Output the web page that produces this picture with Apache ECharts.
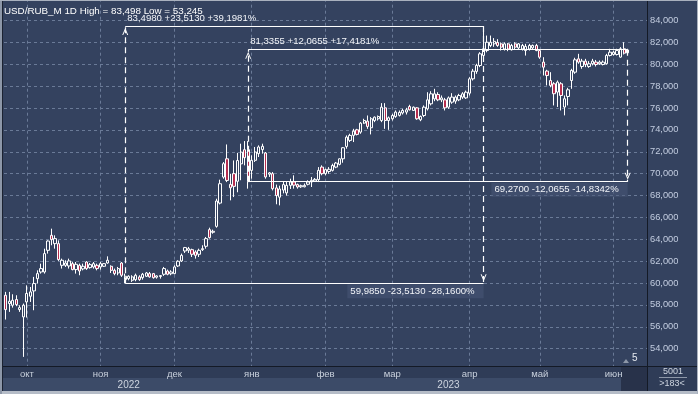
<!DOCTYPE html>
<html><head><meta charset="utf-8">
<script src="https://cdn.jsdelivr.net/npm/echarts/dist/echarts.min.js"></script>
<style>html,body{margin:0;padding:0;background:#34425f;overflow:hidden}#c{width:698px;height:394px}</style>
</head><body><div id="c"></div><script>
// ---- calendar (MOEX trading days shown on the chart) ----
const startDate = '2022-09-23';
const holidays = ['2022-11-04','2023-01-02','2023-02-23','2023-03-08','2023-05-01','2023-05-09','2023-06-12'];
const slotCount = 183;
const monthNames = ['янв','фев','мар','апр','май','июн','июл','авг','сен','окт','ноя','дек'];
const yTickMin = 52, yTickMax = 86, yTickStep = 2;

// ---- daily candles ----
const opens = [
58.88,58.12,57.97,58.49,57.57,56.90,58.27,58.79,59.28,60.40,
61.01,61.01,62.99,64.36,63.60,63.60,61.62,61.62,61.56,61.77,
61.23,61.62,61.29,61.92,61.41,61.47,61.62,61.47,61.53,61.83,
61.53,61.16,60.92,61.83,60.31,60.40,60.25,60.31,60.56,60.49,
60.62,60.86,60.86,60.53,60.60,60.80,61.10,60.85,60.86,61.56,
62.02,62.93,62.99,63.05,62.84,62.63,63.05,63.36,64.88,64.64,
65.18,67.31,69.69,71.36,69.02,70.00,69.30,70.90,72.19,72.19,
70.30,71.22,71.83,72.20,71.89,69.95,70.00,68.70,67.85,68.50,
68.24,68.93,69.24,69.00,68.80,68.80,69.03,69.24,69.33,69.45,
70.60,70.00,70.20,70.30,70.60,70.85,71.36,72.49,73.04,73.50,
74.01,73.80,74.62,74.80,74.20,74.86,75.02,74.86,76.02,74.86,
75.02,75.23,75.33,75.55,75.63,76.14,75.78,76.02,74.93,75.32,
75.93,76.39,76.84,77.24,76.75,76.75,76.08,76.54,76.63,76.75,
77.00,76.93,77.36,78.67,79.35,79.89,80.81,81.26,81.72,81.87,
82.00,81.87,81.40,81.87,81.33,81.87,81.50,81.40,81.26,81.40,
81.50,81.72,81.26,80.20,79.38,78.52,78.22,77.46,78.22,76.09,
77.06,78.52,79.28,80.50,79.80,80.29,79.80,80.05,80.20,80.05,
79.98,80.05,80.81,80.90,80.90,80.66,81.42,81.05];
const closes = [
57.57,58.33,58.42,58.03,57.75,57.97,59.04,59.19,59.95,60.86,
61.32,62.69,63.84,63.97,64.06,62.14,62.08,61.83,62.02,61.23,
61.71,61.10,61.53,61.32,61.68,61.77,61.32,61.77,61.77,62.08,
61.16,60.86,61.32,60.71,60.62,60.62,60.56,60.71,60.31,60.80,
60.92,60.56,60.49,60.65,60.68,61.32,60.80,61.01,61.47,61.99,
62.53,63.24,63.14,62.63,62.53,62.99,63.14,64.06,64.15,64.73,
67.50,69.08,70.91,69.38,68.71,68.84,71.20,71.97,71.46,69.27,
71.22,71.98,72.44,72.50,69.70,70.07,68.63,68.00,68.60,69.00,
68.93,69.24,68.95,68.78,68.90,68.93,69.24,69.39,69.48,70.30,
70.00,70.37,70.40,70.75,70.97,71.36,72.37,73.34,73.50,73.89,
73.59,74.62,74.86,74.32,75.02,75.17,75.23,76.08,74.86,75.11,
75.32,75.63,75.60,75.78,75.84,75.84,76.08,75.02,75.23,76.08,
76.75,77.30,77.30,76.75,76.93,76.02,76.93,77.00,77.00,77.15,
77.30,77.45,78.67,79.37,79.90,80.96,81.42,82.02,82.02,82.10,
81.72,81.57,81.87,81.40,81.72,81.57,81.87,81.72,81.63,81.72,
81.72,81.26,80.65,79.74,78.98,78.07,77.31,78.37,77.15,76.85,
77.67,79.44,80.41,80.20,80.29,79.98,80.05,80.29,79.98,80.20,
80.20,80.81,81.11,81.11,81.26,81.42,81.02,81.313];
const lows = [
56.66,57.36,57.75,57.88,57.36,53.245,56.84,58.27,57.51,59.95,
60.86,60.86,62.69,63.45,63.14,62.02,61.32,61.47,61.32,61.16,
60.86,60.71,61.16,61.20,61.32,61.32,61.16,61.23,61.47,61.77,
60.92,60.71,60.71,60.56,59.985,60.25,60.10,60.16,60.20,60.31,
60.56,60.49,60.40,60.40,60.40,60.65,60.71,60.71,60.80,61.47,
61.92,62.75,62.75,62.38,62.23,62.38,62.93,63.14,64.06,64.51,
65.06,67.19,69.54,69.23,67.56,67.86,68.30,69.40,70.76,68.63,
69.54,71.07,71.52,71.83,69.54,69.70,68.47,67.20,67.10,68.20,
68.00,68.60,68.63,68.63,68.70,68.75,68.93,68.78,69.24,69.23,
69.85,69.85,70.00,70.20,70.50,70.76,71.00,72.28,72.89,72.89,
73.50,73.65,74.56,74.10,73.59,74.71,74.86,74.71,74.10,74.01,
74.86,75.11,75.23,75.41,75.41,75.78,75.78,74.93,74.80,75.17,
75.78,76.24,76.63,76.63,76.54,75.78,75.93,76.39,76.39,76.63,
76.84,76.84,77.15,78.52,79.13,79.74,80.66,81.10,81.57,81.60,
81.60,81.26,81.26,81.20,81.26,81.40,81.33,81.26,80.80,81.26,
81.40,81.20,80.50,78.98,78.07,77.90,76.24,76.10,75.78,75.33,
76.24,77.76,79.13,80.05,79.59,79.74,79.68,79.90,79.80,79.95,
79.90,79.98,80.72,80.80,80.81,80.60,80.90,80.90];
const highs = [
59.19,59.19,58.97,58.88,57.97,58.12,59.79,59.64,60.56,61.16,
61.77,63.14,63.90,64.97,64.36,63.90,62.23,62.08,62.23,61.92,
61.92,61.77,61.77,62.00,61.83,61.92,61.77,61.92,61.83,62.44,
61.62,61.32,61.47,61.92,60.86,60.71,60.71,60.86,60.71,60.92,
61.01,61.01,60.92,60.71,60.72,61.47,61.23,61.17,61.62,62.08,
62.69,63.30,63.30,63.14,62.99,63.14,63.45,64.21,65.06,64.88,
67.71,69.45,71.06,72.67,69.99,71.21,71.90,72.74,72.98,72.98,
71.67,72.44,72.59,72.74,71.98,70.15,70.15,69.00,68.90,69.30,
69.24,69.54,69.85,69.09,69.00,69.10,69.39,69.70,69.60,70.60,
70.76,70.46,70.60,70.91,71.07,71.40,72.43,73.50,73.65,74.10,
74.10,74.71,75.02,75.32,75.17,75.23,75.32,76.45,76.45,75.23,
75.47,75.78,75.78,75.93,76.02,76.30,76.14,76.08,75.32,76.24,
77.45,77.54,77.76,77.45,77.15,76.93,77.06,77.36,77.15,77.30,
77.45,77.60,78.82,79.58,80.05,81.11,83.498,82.63,82.63,82.40,
82.30,82.00,82.00,81.95,81.87,82.02,81.95,81.87,81.87,81.87,
81.81,81.87,81.33,80.65,79.50,79.28,78.37,78.52,78.37,77.15,
77.85,79.59,80.60,80.96,80.50,80.50,80.29,80.50,80.40,80.35,
80.35,80.96,81.42,81.26,81.42,81.57,82.02,81.42];

// ---- measuring-tool annotations (bar index + price) ----
const measureA = { startIdx: 34, endIdx: 136, low: 59.985, high: 83.498 };
const measureB = { startIdx: 69, endIdx: 177, low: 69.27, high: 81.3355 };
const lastPrice = 81.313;
const dataSourceId = '5001';

// ---------------------------------------------------------------
const dates = [];
{
  const d = new Date(startDate + 'T12:00:00Z');
  while (dates.length < slotCount) {
    const wd = d.getUTCDay(), s = d.toISOString().slice(0, 10);
    if (wd !== 0 && wd !== 6 && holidays.indexOf(s) < 0) dates.push(s);
    d.setUTCDate(d.getUTCDate() + 1);
  }
}
const isMonthStart = i => i > 0 && dates[i].slice(0, 7) !== dates[i - 1].slice(0, 7);
const yearMid = {};
{
  const span = {};
  dates.forEach((s, i) => { const y = s.slice(0, 4); if (!span[y]) span[y] = [i, i]; span[y][1] = i; });
  Object.keys(span).forEach(y => { yearMid[Math.round((span[y][0] + span[y][1]) / 2)] = y; });
}
const fmt = (v, d) => v.toFixed(d).replace('.', ',');
const sgn = v => (v >= 0 ? '+' : '-') + fmt(Math.abs(v), 4);
const ohlc = opens.map((o, i) => [o, closes[i], lows[i], highs[i]]);
const emptyBars = slotCount - ohlc.length;

const FONT = 'Liberation Sans, Arial, sans-serif';
const BG = '#34425f';
const chevron = 'path://M3,0 L3.02,0 L3.02,0.02 Z M0,18 L3,11 L6,18 L5,18 L3,13.4 L1,18 Z';
const dashStyle = { type: [6, 4], width: 1.2, color: '#ffffff' };
const solidStyle = { type: 'solid', width: 1.2, color: '#ffffff' };

function vLine(idx, from, to) {
  return [
    { coord: [dates[idx], from], symbol: 'none', lineStyle: dashStyle, label: { show: false } },
    { coord: [dates[idx], to], symbol: chevron, symbolSize: [6, 18] }
  ];
}
function hLine(i0, i1, v, text, top) {
  const label = top
    ? { show: true, position: 'insideStartTop', formatter: text, color: '#f2f4f8', fontSize: 9.6, fontFamily: FONT, distance: [2, 3] }
    : { show: true, position: 'insideEndBottom', formatter: text, color: '#f2f4f8', fontSize: 9.6, fontFamily: FONT, distance: [0, 1],
        backgroundColor: 'rgba(72,88,118,0.55)', padding: [2, 9, 2, 3] };
  return [
    { coord: [dates[i0], v], symbol: 'none', lineStyle: solidStyle, label: label },
    { coord: [dates[i1], v], symbol: 'none' }
  ];
}
const dA = measureA.high - measureA.low, dB = measureB.high - measureB.low;
const markData = [
  hLine(measureA.startIdx, measureA.endIdx, measureA.high,
    fmt(measureA.high, 4) + ' ' + sgn(dA) + ' ' + sgn(dA / measureA.low * 100) + '%', true),
  vLine(measureA.startIdx, measureA.low, measureA.high),
  vLine(measureA.endIdx, measureA.high, measureA.low),
  hLine(measureA.startIdx, measureA.endIdx, measureA.low,
    fmt(measureA.low, 4) + ' ' + sgn(-dA) + ' ' + sgn(-dA / measureA.high * 100) + '%', false),
  hLine(measureB.startIdx, measureB.endIdx, measureB.high,
    fmt(measureB.high, 4) + ' ' + sgn(dB) + ' ' + sgn(dB / measureB.low * 100) + '%', true),
  vLine(measureB.startIdx, measureB.low, measureB.high),
  vLine(measureB.endIdx, measureB.high, measureB.low),
  hLine(measureB.startIdx, measureB.endIdx, measureB.low,
    fmt(measureB.low, 4) + ' ' + sgn(-dB) + ' ' + sgn(-dB / measureB.high * 100) + '%', false),
  { yAxis: lastPrice, symbol: 'none', lineStyle: { opacity: 0, width: 0 },
    label: { show: true, position: 'end', distance: 1, formatter: fmt(lastPrice, 3), color: '#1b2130',
      backgroundColor: '#c4c8d0', padding: [2, 12, 1, 3], fontSize: 10, fontFamily: FONT } }
];

const chart = echarts.init(document.getElementById('c'), null, { renderer: 'canvas' });
const gridDash = { color: '#6a7a97', type: [3, 3], width: 1 };
const catAxisBase = { type: 'category', data: dates, gridIndex: 0, position: 'bottom', boundaryGap: true,
  axisLine: { show: false }, axisTick: { show: false } };

chart.setOption({
  backgroundColor: BG,
  animation: false,
  grid: { left: 4, right: 51, top: -1.3, bottom: 23.5, containLabel: false, outerBoundsMode: 'none' },
  xAxis: [
    Object.assign({}, catAxisBase, {
      axisLabel: { show: false },
      splitLine: { show: true, interval: (i) => isMonthStart(i), alignWithLabel: true, lineStyle: gridDash }
    }),
    Object.assign({}, catAxisBase, {
      z: 20, splitLine: { show: false },
      axisLabel: { show: true, interval: (i) => isMonthStart(i), margin: 3.5, verticalAlign: 'middle',
        formatter: (v) => monthNames[+v.slice(5, 7) - 1], color: '#c9d1dd', fontSize: 9.5, fontFamily: FONT }
    }),
    Object.assign({}, catAxisBase, {
      z: 20, splitLine: { show: false },
      axisLabel: { show: true, interval: (i) => yearMid[i] !== undefined, margin: 14.5, verticalAlign: 'middle',
        formatter: (v) => v.slice(0, 4), color: '#cdd4df', fontSize: 10, fontFamily: FONT }
    })
  ],
  yAxis: {
    type: 'value', position: 'right', min: yTickMin, max: yTickMax, interval: yTickStep, scale: true,
    axisLine: { show: false }, axisTick: { show: false },
    axisLabel: { margin: 3, color: '#c3cde0', fontSize: 9.3, fontFamily: FONT,
      formatter: (v) => (v <= yTickMin || v >= yTickMax) ? '' : fmt(v, 3) },
    splitLine: { show: true, lineStyle: gridDash }
  },
  series: [{
    type: 'candlestick', xAxisIndex: 0, yAxisIndex: 0, data: ohlc, barWidth: 2.8, silent: true,
    itemStyle: { color: BG, color0: '#b52d4f', borderColor: '#ffffff', borderColor0: '#ffffff', borderWidth: 1 },
    markLine: { silent: true, animation: false, symbol: ['none', 'none'], data: markData }
  }],
  graphic: [
    { type: 'rect', z: 10, silent: true, shape: { x: 0, y: 366, width: 647, height: 12 }, style: { fill: '#2f3c57' } },
    { type: 'rect', z: 10, silent: true, shape: { x: 0, y: 378, width: 647, height: 13 }, style: { fill: '#3c4b68' } },
    { type: 'rect', z: 10, silent: true, shape: { x: 621, y: 367, width: 26, height: 24 }, style: { fill: '#28324a' } },
    { type: 'rect', z: 10, silent: true, shape: { x: 647, y: 366, width: 51, height: 25 }, style: { fill: '#2f3c57' } },
    { type: 'line', z: 11, silent: true, shape: { x1: 0, y1: 366.5, x2: 698, y2: 366.5 }, style: { stroke: '#141a26', lineWidth: 1 } },
    { type: 'line', z: 11, silent: true, shape: { x1: 647.5, y1: 0, x2: 647.5, y2: 391 }, style: { stroke: '#141a26', lineWidth: 1 } },
    { type: 'rect', z: 11, silent: true, shape: { x: 0, y: 391, width: 698, height: 3 }, style: { fill: '#b5bcc7' } },
    { type: 'rect', z: 11, silent: true, shape: { x: 0, y: 0, width: 2, height: 394 }, style: { fill: '#8d97a8' } },
    { type: 'line', z: 11, silent: true, shape: { x1: 2.5, y1: 0, x2: 2.5, y2: 391 }, style: { stroke: '#1b2231', lineWidth: 1 } },
    { type: 'rect', z: 11, silent: true, shape: { x: 0, y: 0, width: 698, height: 1 }, style: { fill: '#a9b1be' } },
    { type: 'rect', z: 11, silent: true, shape: { x: 697, y: 0, width: 1, height: 394 }, style: { fill: '#a9b1be' } },
    { type: 'text', z: 12, silent: true, style: { x: 4, y: 11, text: 'USD/RUB_M 1D High = ' + fmt(Math.max.apply(null, highs), 3) + ' Low = ' + fmt(Math.min.apply(null, lows), 3),
      fill: '#ffffff', font: '9.8px ' + FONT, textVerticalAlign: 'middle', verticalAlign: 'middle' } },
    { type: 'polygon', z: 12, silent: true, shape: { points: [[623, 363], [626, 359], [629, 363]] }, style: { fill: '#8d97a8' } },
    { type: 'text', z: 12, silent: true, style: { x: 632, y: 358, text: String(emptyBars), fill: '#e6eaf0', font: '10px ' + FONT,
      textVerticalAlign: 'middle', verticalAlign: 'middle' } },
    { type: 'text', z: 12, silent: true, style: { x: 673, y: 372, text: dataSourceId, fill: '#cdd4df', font: '9px ' + FONT,
      textAlign: 'center', align: 'center', textVerticalAlign: 'middle', verticalAlign: 'middle' } },
    { type: 'line', z: 12, silent: true, shape: { x1: 659, y1: 377.5, x2: 687, y2: 377.5 }, style: { stroke: '#8d97a8', lineWidth: 1 } },
    { type: 'text', z: 12, silent: true, style: { x: 672, y: 384, text: '>' + slotCount + '<', fill: '#cdd4df', font: '9px ' + FONT,
      textAlign: 'center', align: 'center', textVerticalAlign: 'middle', verticalAlign: 'middle' } }
  ]
});
</script></body></html>
